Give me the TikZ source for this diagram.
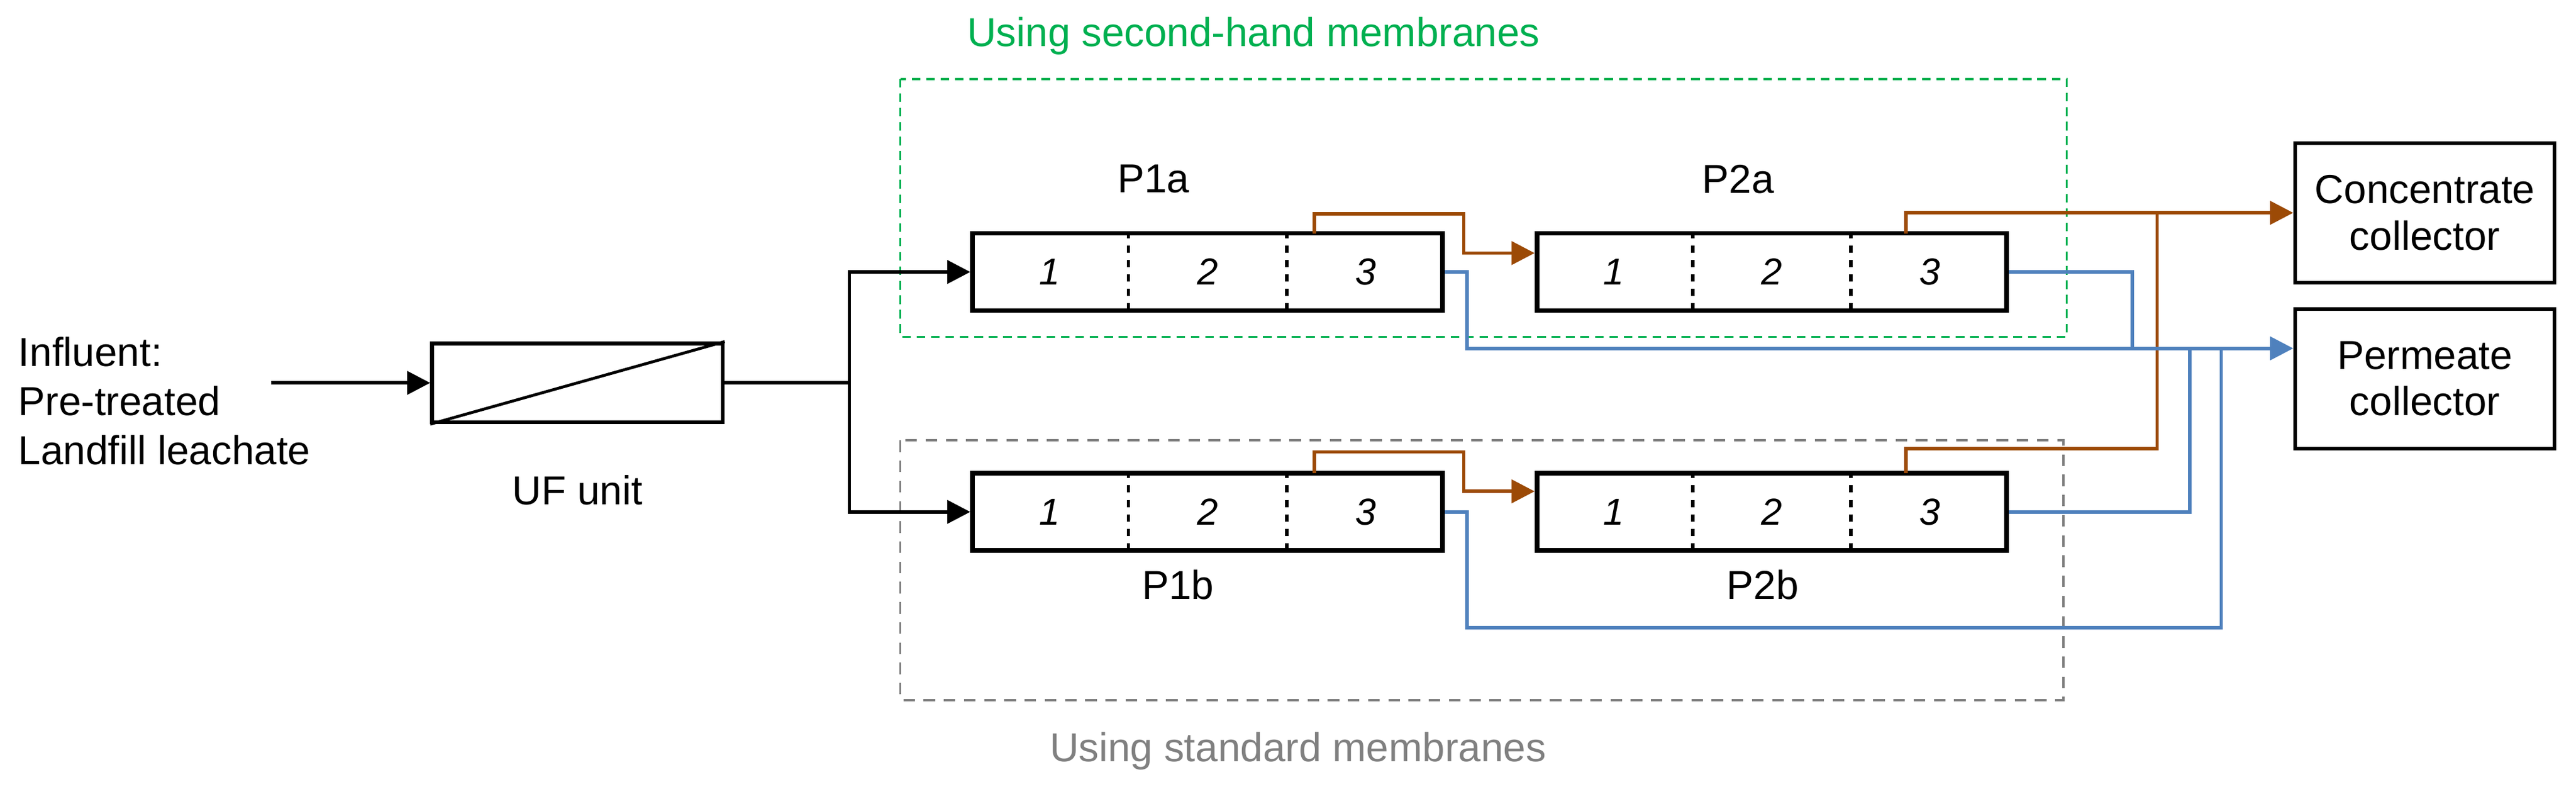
\documentclass[tikz,border=0pt]{standalone}
\usepackage{fontspec}
\setmainfont{Liberation Sans}
\usetikzlibrary{positioning,arrows.meta,calc}
\definecolor{brownc}{RGB}{156,74,6}
\definecolor{bluep}{RGB}{79,129,189}
\definecolor{greenb}{RGB}{0,176,80}
\definecolor{grayb}{RGB}{128,128,128}
\tikzset{
stage/.style={draw=black, line width=1.6pt, minimum width=5.72cm, minimum height=0.94cm, inner sep=0pt},
unit/.style={draw=black, line width=1.3pt, inner sep=0pt},
num/.style={font=\fontsize{13}{15}\selectfont\rmfamily\itshape},
lbl/.style={font=\fontsize{14}{16}\selectfont},
divider/.style={line width=1.2pt, dash pattern=on 2.5pt off 2.5pt},
feed/.style={line width=1.2pt, -{Triangle[length=8pt,width=8pt]}},
conc/.style={draw=brownc, line width=1.2pt, -{Triangle[length=8pt,width=8pt]}},
perm/.style={draw=bluep, line width=1.2pt, -{Triangle[length=8pt,width=8pt]}},
}
\begin{document}
\begin{tikzpicture}[x={(0.02cm,0)}, y={(0,-0.02cm)}]
\useasboundingbox (0,0) rectangle (1568,486);

% group frames
\draw[greenb, line width=0.8pt, dash pattern=on 3pt off 2pt] (548,48) rectangle (1258,205);
\draw[grayb, line width=0.8pt, dash pattern=on 4pt off 3pt] (548,268) rectangle (1256,426);
\node[lbl, text=greenb] (tgreen) at (763,22) {Using second-hand membranes};
\node[lbl, text=grayb] (tgray) at (790,457) {Using standard membranes};

% influent and UF unit
\node[lbl, align=left, anchor=west] (infl) at (5,244) {Influent:\\[1pt]Pre-treated\\[1pt]Landfill leachate};
\node[unit, minimum width=3.54cm, minimum height=0.96cm] (uf) at (351.5,233) {};
\draw[line width=1pt] (uf.south west) -- (uf.north east);
\node[lbl, below=0.5cm of uf] (uflbl) {UF unit};
\coordinate (infeed) at (165,233);
\draw[feed] (infeed) -- (uf.west |- infeed);

% membrane stages
\foreach \n/\x/\y in {p1a/735/165.5, p1b/735/311.5, p2a/1078.5/165.5, p2b/1078.5/311.5}{
  \node[stage] (\n) at (\x,\y) {};
  \foreach \i in {1,2}
    \draw[divider] ($(\n.north west)!\i/3!(\n.north east)$) -- ($(\n.south west)!\i/3!(\n.south east)$);
  \foreach \i in {1,2,3}
    \node[num] at ($(\n.west)!{(\i-0.5)/3}!(\n.east)$) {\i};
}
\node[lbl] (lp1a) at (702,109) {P1a};
\node[lbl] (lp2a) at (1058,109) {P2a};
\node[lbl] (lp1b) at (717,356) {P1b};
\node[lbl] (lp2b) at (1073,356) {P2b};

% collectors
\node[unit, lbl, minimum width=3.16cm, minimum height=1.7cm, align=center] (concc) at (1476,129.5) {Concentrate\\collector};
\node[unit, lbl, minimum width=3.16cm, minimum height=1.7cm, align=center] (permc) at (1476,230.5) {Permeate\\collector};

% feed split
\coordinate (split) at (517,233);
\draw[line width=1.2pt] (uf.east |- split) -- (split);
\draw[feed] (split) |- (p1a.west);
\draw[feed] (split) |- (p1b.west);

% concentrate lines
\draw[conc] (800,142) |- (891,130) |- (p2a.west |- 0,154);
\draw[conc] (800,288) |- (891,275) |- (p2b.west |- 0,299);
\draw[conc] (1160,142) |- (concc.west);
\draw[brownc, line width=1.2pt] (1160,288) |- (1313,273) -- (1313,130);

% permeate lines
\coordinate (pin) at (permc.west |- 0,212);
\draw[perm] (p1a.east) -| (893,212) -- (pin);
\draw[bluep, line width=1.2pt] (p2a.east) -| (1298,212);
\draw[bluep, line width=1.2pt] (p2b.east) -| (1333,212);
\draw[bluep, line width=1.2pt] (p1b.east) -| (893,382) -| (1352,212);
\end{tikzpicture}
\end{document}
